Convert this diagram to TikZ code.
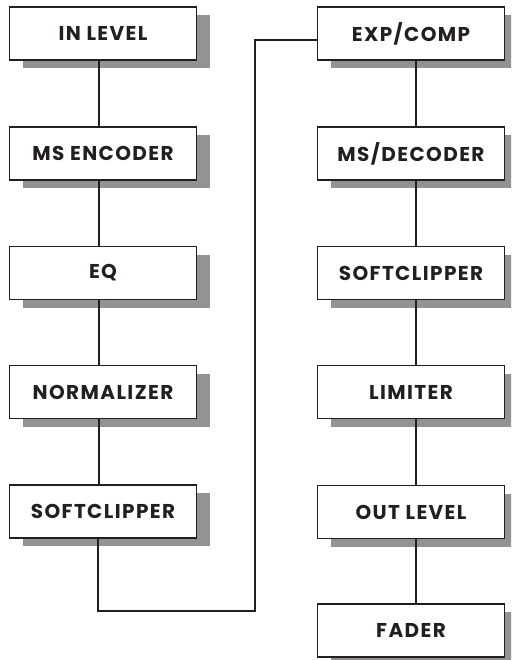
\documentclass[tikz,border=0pt]{standalone}
\usepackage{fontspec}
\newfontfamily\blockfont[LetterSpace=7]{Poppins}
\usetikzlibrary{shadows}
\definecolor{ink}{HTML}{231F20}
\definecolor{shade}{HTML}{939393}
\begin{document}
\begin{tikzpicture}[x=1pt,y=-1pt,
  block/.style={draw=ink, line width=1.2pt, fill=white,
    minimum width=187pt, minimum height=53pt, inner sep=0pt,
    font=\blockfont\fontsize{20}{22}\selectfont\bfseries, text=ink,
    drop shadow={shadow xshift=13pt, shadow yshift=-8pt, fill=shade, opacity=1, draw=none}},
  wire/.style={draw=ink, line width=1.1pt}]
\useasboundingbox[clip] (0,0) rectangle (511,660);
% left chain
\node[block] (l1) at (103,33.5) {IN LEVEL};
\node[block] (l2) at (103,153.5) {MS ENCODER};
\node[block] (l3) at (103,273) {EQ};
\node[block] (l4) at (103,392) {NORMALIZER};
\node[block] (l5) at (103,511.5) {SOFTCLIPPER};
% right chain
\node[block] (r1) at (411,33.5) {EXP/COMP};
\node[block] (r2) at (411,153.5) {MS/DECODER};
\node[block] (r3) at (411,273) {SOFTCLIPPER};
\node[block] (r4) at (411,392) {LIMITER};
\node[block] (r5) at (411,512) {OUT LEVEL};
\node[block] (r6) at (411,630.5) {FADER};
% vertical links
\foreach \a/\b in {l1/l2,l2/l3,l3/l4,l4/l5}
  \draw[wire] ([xshift=-4pt]\a.south) -- ([xshift=-4pt]\b.north);
\foreach \a/\b in {r1/r2,r2/r3,r3/r4,r4/r5,r5/r6}
  \draw[wire] ([xshift=5pt]\a.south) -- ([xshift=5pt]\b.north);
% crossover from the left chain into the right chain
\coordinate (bend) at (255,611);
\draw[wire] ([xshift=-5pt]l5.south) |- (bend) |- ([yshift=-6.5pt]r1.west);
\end{tikzpicture}
\end{document}
